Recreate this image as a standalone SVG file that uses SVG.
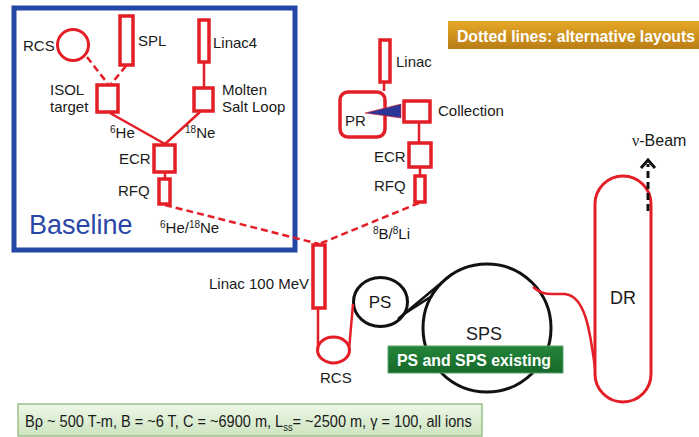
<svg xmlns="http://www.w3.org/2000/svg" width="699" height="437" viewBox="0 0 699 437">
<defs>
<linearGradient id="gold" x1="0" y1="0" x2="0" y2="1"><stop offset="0" stop-color="#e6a826"/><stop offset="1" stop-color="#b97d16"/></linearGradient>
<linearGradient id="lgreen" x1="0" y1="0" x2="0" y2="1"><stop offset="0" stop-color="#eef7e8"/><stop offset="1" stop-color="#cde4c0"/></linearGradient>
<linearGradient id="dgreen" x1="0" y1="0" x2="0" y2="1"><stop offset="0" stop-color="#23853a"/><stop offset="1" stop-color="#17692b"/></linearGradient>
</defs>
<style>
text{font-family:"Liberation Sans",Arial,sans-serif;font-size:15px;fill:#1a1a1a}
.box{fill:#fff;stroke:#e41e26;stroke-width:3.5}
.ring{fill:none;stroke:#e41e26;stroke-width:3}
.bring{fill:none;stroke:#111;stroke-width:3}
.ln{fill:none;stroke:#e41e26;stroke-width:2.5}
.dash{fill:none;stroke:#e41e26;stroke-width:2.5;stroke-dasharray:7 4}
.sup{font-size:10px}
.big{font-size:18px}
.wb{fill:#fff;font-weight:bold;font-size:16px}
</style>
<rect width="699" height="437" fill="#fff"/>

<g id="baseline-frame">
<rect x="14" y="8" width="281" height="242" fill="none" stroke="#2446a6" stroke-width="5"/>
<text x="29" y="234" style="font-size:27px;fill:#2a47a8">Baseline</text>
</g>

<g id="rcs-top"><circle class="ring" cx="73" cy="45" r="15.5"/><text x="23" y="51">RCS</text></g>
<g id="spl"><rect class="box" x="120" y="16" width="13" height="49"/><text x="138" y="46">SPL</text></g>
<g id="linac4"><rect class="box" x="199" y="20" width="10" height="42"/><text x="213" y="48">Linac4</text></g>
<g id="isol"><rect class="box" x="97" y="85" width="21" height="27"/><text x="50" y="95">ISOL</text><text x="50" y="112">target</text></g>
<g id="molten"><rect class="box" x="194" y="88" width="19" height="23"/><text x="222" y="95">Molten</text><text x="222" y="112">Salt Loop</text></g>
<g id="he6"><text x="110" y="138"><tspan class="sup" dy="-5">6</tspan><tspan dy="5">He</tspan></text></g>
<g id="ne18"><text x="185" y="138"><tspan class="sup" dy="-5">18</tspan><tspan dy="5">Ne</tspan></text></g>
<g id="ecr-left"><rect class="box" x="154" y="145" width="21" height="27"/><text x="119" y="164">ECR</text></g>
<g id="rfq-left"><rect class="box" x="159" y="179" width="11" height="25"/><text x="118" y="196">RFQ</text></g>
<g id="he-ne"><text x="160" y="233"><tspan class="sup" dy="-5">6</tspan><tspan dy="5">He/</tspan><tspan class="sup" dy="-5">18</tspan><tspan dy="5">Ne</tspan></text></g>

<g id="linac-right"><rect class="box" x="380" y="40" width="10" height="42"/><text x="396" y="67">Linac</text></g>
<g id="pr"><rect class="box" x="340" y="92" width="45" height="45" rx="8"/><text x="345" y="126">PR</text></g>
<g id="collection"><rect class="box" x="404" y="101" width="26" height="21"/><text x="438" y="116">Collection</text></g>
<g id="ecr-right"><rect class="box" x="409" y="143" width="22" height="24"/><text x="374" y="162">ECR</text></g>
<g id="rfq-right"><rect class="box" x="415" y="176" width="10" height="26"/><text x="374" y="191">RFQ</text></g>
<g id="b8li8"><text x="373" y="239"><tspan class="sup" dy="-5">8</tspan><tspan dy="5">B/</tspan><tspan class="sup" dy="-5">8</tspan><tspan dy="5">Li</tspan></text></g>

<g id="linac100"><rect class="box" x="313" y="245" width="12" height="63"/><text x="209" y="289">Linac 100 MeV</text></g>
<g id="rcs-bottom"><ellipse class="ring" cx="333.5" cy="350" rx="16" ry="13"/><text x="320" y="383">RCS</text></g>
<g id="ps"><ellipse class="bring" cx="380.5" cy="302" rx="27" ry="24.5"/><text x="380" y="308" text-anchor="middle" style="font-size:17px">PS</text></g>
<g id="sps"><circle class="bring" cx="487" cy="328" r="64"/><text x="484" y="340" text-anchor="middle" class="big">SPS</text></g>
<g id="sps-note"><rect x="388" y="346" width="175" height="27" fill="url(#dgreen)" stroke="#5aa46a" stroke-width="1"/><text x="397" y="366" class="wb" textLength="154" lengthAdjust="spacingAndGlyphs">PS and SPS existing</text></g>
<g id="dr"><rect x="595" y="176" width="56" height="226" rx="28" fill="none" stroke="#e41e26" stroke-width="3"/><text x="623" y="304" text-anchor="middle" class="big">DR</text></g>
<g id="nu-beam"><text x="632" y="146" style="font-size:16px"><tspan style="font-family:'Liberation Serif',serif">ν</tspan>-Beam</text></g>

<g id="legend"><rect x="448" y="21" width="251" height="28" fill="url(#gold)"/><text x="457" y="42" class="wb" textLength="238" lengthAdjust="spacingAndGlyphs">Dotted lines: alternative layouts</text></g>
<g id="params"><rect x="18" y="404" width="464" height="32" fill="url(#lgreen)" stroke="#9cc08a" stroke-width="1.5"/><text transform="translate(25,427) scale(0.856,1)" x="0" y="0" style="font-size:17px">Bρ ~ 500 T-m, B = ~6 T, C = ~6900 m, L<tspan dy="4" style="font-size:11px">ss</tspan><tspan dy="-4">= ~2500 m, γ = 100, all ions</tspan></text></g>

<g id="connectors">
<path class="dash" d="M87,57 L108,84"/>
<path class="dash" d="M126,66 L111,84"/>
<path class="ln" d="M204,62 L204,87"/>
<path class="ln" d="M110,113 L165,144"/>
<path class="ln" d="M200,112 L165,144"/>
<path class="ln" d="M165,173 L165,178"/>
<path class="dash" d="M165,205 L319,244"/>
<path class="dash" d="M419,203 L319,244"/>
<path class="ln" d="M384,82 L384,91"/>
<path class="ln" d="M419,123 L419,142"/>
<path class="ln" d="M420,168 L420,175"/>
<path class="ln" d="M318,309 L318,350"/>
<path class="ln" d="M353,304 L349,350"/>
<path class="bring" d="M398,319 L452,274" style="stroke-width:2.5"/>
<path class="bring" d="M404,314 L432,296" style="stroke-width:2.5"/>
<path class="ln" d="M533,287 C540,293 545,294 552,294 L565,294 C585,296 590,330 595,368"/>
<polygon points="401,104 401,118 365,113" fill="#2b3596" stroke="#e41e26" stroke-width="0.6"/>
<path d="M648,211 L648,164" stroke="#111" stroke-width="3" stroke-dasharray="7 4" fill="none"/>
<polyline points="641,168 648,160 655,168" fill="none" stroke="#111" stroke-width="3"/>
</g>
</svg>
